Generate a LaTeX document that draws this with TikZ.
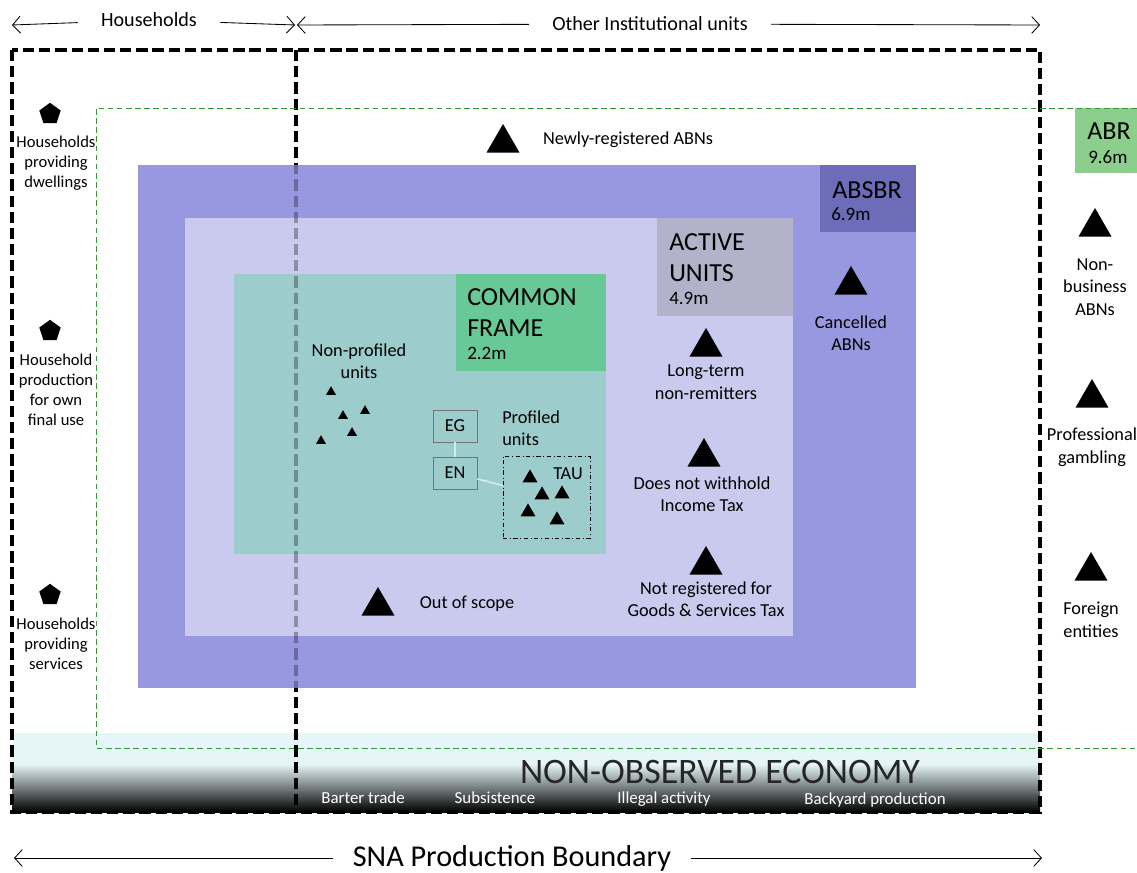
\documentclass[tikz,border=0pt]{standalone}
\usepackage{fontspec}
\setmainfont{Carlito}
\usetikzlibrary{arrows.meta, positioning, shapes.geometric}

\definecolor{absbrblue}{RGB}{152,152,224}
\definecolor{absbrdark}{RGB}{108,108,184}
\definecolor{activelight}{RGB}{202,202,238}
\definecolor{activegrey}{RGB}{178,178,202}
\definecolor{commonteal}{RGB}{156,204,204}
\definecolor{commongreen}{RGB}{104,200,150}
\definecolor{abrgreen}{RGB}{140,206,140}
\definecolor{abrline}{RGB}{51,153,51}
\definecolor{noecyan}{RGB}{230,246,248}
\definecolor{linkpale}{RGB}{208,236,236}

\begin{document}
\begin{tikzpicture}[
      x=0.025cm, y=-0.025cm,
      every node/.style={font=\fontsize{13}{16}\selectfont},
      lbl/.style={align=center, inner sep=0pt},
      hhlbl/.style={lbl, font=\fontsize{11.8}{14.2}\selectfont},
      spanlbl/.style={font=\fontsize{14.3}{16}\selectfont, inner ysep=0pt, inner xsep=0.58cm},
      span/.style={-{Straight Barb[length=5.5pt,width=12pt]}, semithick},
      biglbl/.style={anchor=west, inner sep=0pt, font=\fontsize{18.5}{22}\selectfont},
      sizelbl/.style={anchor=west, inner sep=0pt, font=\fontsize{13.5}{15}\selectfont},
      noelbl/.style={inner sep=0pt, text=white, font=\fontsize{12}{13}\selectfont},
      tri/.style={regular polygon, regular polygon sides=3, fill=black, inner sep=0pt, minimum size=0.95cm},
      smalltri/.style={tri, minimum size=0.29cm},
      tautri/.style={tri, minimum size=0.43cm},
      pent/.style={regular polygon, regular polygon sides=5, fill=black, inner sep=0pt, minimum size=0.56cm},
      unitbox/.style={draw=black!55, thin, minimum width=1.1cm, minimum height=0.8cm, inner sep=0pt},
      link/.style={draw=linkpale, line width=1.2pt},
      bigdash/.style={line width=3pt, dash pattern=on 8pt off 3.5pt},
      abrdash/.style={draw=abrline, dash pattern=on 4pt off 2.5pt, line width=0.7pt}
    ]
    \useasboundingbox (0,0) rectangle (1137,873);

    % Non-observed economy band
    \fill[noecyan] (12,733) rectangle (1040,812);
    \shade[top color=noecyan, middle color=black!45, bottom color=black] (12,764) rectangle (1040,812);
    \node[inner sep=0pt, text depth=0pt, anchor=base, text=black!85, font=\fontsize{25.5}{27}\selectfont] (noe) at (720,783) {NON-OBSERVED ECONOMY};
    \node[noelbl] (barter) at (363,798) {Barter trade};
    \node[noelbl] (subsist) at (495,798) {Subsistence};
    \node[noelbl] (illegal) at (664,799) {Illegal activity};
    \node[noelbl] (backyard) at (875,800) {Backyard production};

    % Production boundary
    \draw[bigdash] (12,50) rectangle (1040,812);
    \draw[bigdash] (296,50) -- (296,812);

    % Register boxes
    \fill[absbrblue] (138,165) rectangle (916,688);
    \fill[absbrdark] (820,165) rectangle (916,232);
    \fill[activelight] (185,218) rectangle (793,636);
    \fill[activegrey] (657,218) rectangle (793,316);
    \fill[commonteal] (234,274) rectangle (606,554);
    \fill[commongreen] (456,274) rectangle (606,371);
    \fill[abrgreen] (1075,108) rectangle (1137,173);
    \begin{scope}
      \clip (138,165) rectangle (916,688);
      \draw[bigdash, draw opacity=0.3] (296,50) -- (296,812);
    \end{scope}

    % ABR line
    \draw[abrdash] (1137,108) -- (96,108) -- (96,748) -- (1137,748);

    % Box labels
    \node[biglbl] (absbr) at (832,190) {ABSBR};
    \node[sizelbl] (absbrn) at (831,214) {6.9m};
    \node[biglbl] (active) at (669,242) {ACTIVE};
    \node[biglbl] (units) at (669,273) {UNITS};
    \node[sizelbl] (activen) at (669,298) {4.9m};
    \node[biglbl] (common) at (467,297) {COMMON};
    \node[biglbl] (frame) at (467,328) {FRAME};
    \node[sizelbl] (commonn) at (467,353) {2.2m};
    \node[biglbl] (abr) at (1087,131) {ABR};
    \node[sizelbl] (abrn) at (1088,157) {9.6m};

    % Top and bottom spans
    \node[spanlbl] (hhtop) at (149,20) {Households};
    \node[spanlbl] (oiu) at (650,24) {Other Institutional units};
    \coordinate (hhL) at (12,25);
    \coordinate (hhR) at (295,25);
    \coordinate (oiuL) at (297,25);
    \coordinate (oiuR) at (1040,25);
    \draw[span] (hhtop) -- (hhL);
    \draw[span] (hhtop) -- (hhR);
    \draw[span] (oiu) -- (oiuL);
    \draw[span] (oiu) -- (oiuR);
    \node[spanlbl, inner xsep=0.48cm, font=\fontsize{21.5}{24}\selectfont] (sna) at (512,858) {SNA Production Boundary};
    \coordinate (snaL) at (14,858);
    \coordinate (snaR) at (1042,858);
    \draw[span] (sna) -- (snaL);
    \draw[span] (sna) -- (snaR);

    % Households
    \node[pent] (p1) at (50,114) {};
    \node[hhlbl] (dwell) at (56,163) {Households\\providing\\dwellings};
    \node[pent] (p2) at (50,331) {};
    \node[hhlbl] (ownuse) at (56,390) {Household\\production\\for own\\final use};
    \node[pent] (p3) at (50,595) {};
    \node[hhlbl] (serv) at (56,644) {Households\\providing\\services};

    % Outside ABSBR
    \node[tri] (t1) at (1095,227) {};
    \node[lbl] (nonbus) at (1095,287) {Non-\\business\\ABNs};
    \node[tri] (t2) at (1092,398) {};
    \node[lbl] (gamb) at (1092,447) {Professional\\gambling};
    \node[tri] (t3) at (1091,571) {};
    \node[lbl] (foreign) at (1091,620) {Foreign\\entities};
    \node[tri] (t4) at (503,143) {};
    \node[lbl] (newly) at (628,140) {Newly-registered ABNs};

    % Inside ABSBR
    \node[tri] (t5) at (851,285) {};
    \node[lbl] (cancel) at (851,333) {Cancelled\\ABNs};
    \node[tri] (t6) at (706,347) {};
    \node[lbl] (ltnr) at (706,382) {Long-term\\non-remitters};
    \node[tri] (t7) at (704,457) {};
    \node[lbl] (income) at (702,494) {Does not withhold\\Income Tax};
    \node[tri] (t8) at (706,565) {};
    \node[lbl] (gst) at (706,599) {Not registered for\\Goods \& Services Tax};
    \node[tri] (t9) at (378,606) {};
    \node[lbl] (oos) at (467,604) {Out of scope};

    % Common frame
    \node[lbl] (nonprof) at (359,361) {Non-profiled\\units};
    \foreach \px/\py in {331/392, 343/416, 365/411, 321/441, 352/433}
      \node[smalltri] at (\px,\py) {};
    \node[unitbox] (eg) at (455,426) {EG};
    \node[unitbox] (en) at (455,473) {EN};
    \node[draw, thin, dash dot, minimum width=2.175cm, minimum height=2.05cm, inner sep=0pt] (tau) at (546.5,497) {};
    \node[lbl, align=left, anchor=west] (prof) at (502,428) {Profiled\\units};
    \node[lbl] (taulbl) at (568,474) {TAU};
    \foreach \px/\py in {530/478, 542/495, 562/494, 528/512, 557/520}
      \node[tautri] at (\px,\py) {};
    \draw[link] (eg) -- (en);
    \draw[link] (en) -- (tau);
\end{tikzpicture}
\end{document}
